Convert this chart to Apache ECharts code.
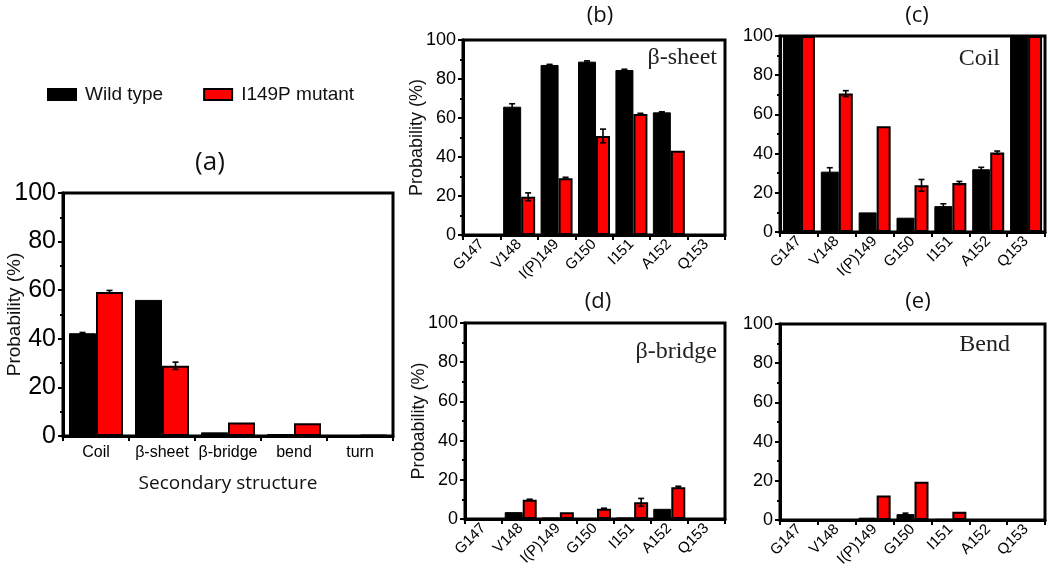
<!DOCTYPE html>
<html>
<head>
<meta charset="utf-8">
<script src="https://cdn.jsdelivr.net/npm/echarts@6/dist/echarts.min.js"></script>
<style>
html,body{margin:0;padding:0;background:#fff;}
#chart{width:1050px;height:569px;}
</style>
</head>
<body>
<div id="chart"></div>
<script>
// ---------- data ----------
const seriesNames = ['Wild type', 'I149P mutant'];
const structCats = ['Coil', 'β-sheet', 'β-bridge', 'bend', 'turn'];
const wtAll = [42.3, 56.0, 1.5, 0.8, 0.3];
const mutAll = [59.3, 28.9, 5.6, 5.2, 0.5];
const wtAllErr = [0.3, 0, 0, 0, 0];
const mutAllErr = [0.6, 1.5, 0, 0, 0];

const residues = ['G147', 'V148', 'I(P)149', 'G150', 'I151', 'A152', 'Q153'];

const wtSheet = [0, 65.8, 87.2, 88.9, 84.6, 62.9, 0];
const mutSheet = [0, 19.6, 29.1, 50.8, 62.0, 43.2, 0];
const wtSheetErr = [0, 1.5, 0.3, 0.4, 0.4, 0.3, 0];
const mutSheetErr = [0, 2.0, 0.5, 3.5, 0.4, 0, 0];

const wtCoil = [100, 30.8, 10.0, 7.3, 13.2, 32.0, 100];
const mutCoil = [100, 70.6, 54.0, 23.8, 25.0, 40.5, 100];
const wtCoilErr = [0, 2.0, 0, 0, 1.2, 1.0, 0];
const mutCoilErr = [0, 1.5, 0, 3.0, 0.8, 0.8, 0];

const wtBridge = [0, 3.5, 0.8, 0, 0.8, 5.2, 0];
const mutBridge = [0, 9.8, 3.5, 5.2, 8.5, 16.2, 0];
const wtBridgeErr = [0, 0, 0, 0, 0, 0, 0];
const mutBridgeErr = [0, 0.3, 0, 0.3, 2.0, 0.5, 0];

const wtBend = [0, 0, 1.2, 3.0, 0.6, 0, 0];
const mutBend = [0, 0, 12.5, 19.5, 4.2, 0, 0];
const wtBendErr = [0, 0, 0, 0.5, 0, 0, 0];
const mutBendErr = [0, 0, 0, 0, 0, 0, 0];

const yMin = 0, yMax = 100, yStep = 20;

// ---------- layout ----------
const panels = [
  {id:'a', cats:structCats, wt:wtAll, mut:mutAll, wtE:wtAllErr, mutE:mutAllErr,
   grid:{left:63, top:193, width:330, height:243}, wB:27, wR:27, yFont:25, yName:true, yNameSize:19, yNameGap:39,
   xRotate:0, xFont:16, xName:'Secondary structure', title:{x:210, y:163, size:26}, inner:null},
  {id:'b', cats:residues, wt:wtSheet, mut:mutSheet, wtE:wtSheetErr, mutE:mutSheetErr,
   grid:{left:463, top:40, width:262, height:195}, wB:18, wR:14, yFont:18, yName:true, yNameSize:18, yNameGap:37,
   xRotate:45, xFont:15, xName:'', title:{x:600, y:16, size:22}, inner:{text:'β-sheet', x:717, y:58}},
  {id:'c', cats:residues, wt:wtCoil, mut:mutCoil, wtE:wtCoilErr, mutE:mutCoilErr,
   grid:{left:780, top:36, width:265, height:196}, wB:18, wR:14, yFont:18, yName:false,
   xRotate:45, xFont:15, xName:'', title:{x:917, y:16, size:22}, inner:{text:'Coil', x:1000, y:59}},
  {id:'d', cats:residues, wt:wtBridge, mut:mutBridge, wtE:wtBridgeErr, mutE:mutBridgeErr,
   grid:{left:465, top:323, width:260, height:196}, wB:18, wR:14, yFont:18, yName:true, yNameSize:18, yNameGap:37,
   xRotate:45, xFont:15, xName:'', title:{x:598, y:302, size:22}, inner:{text:'β-bridge', x:717, y:352}},
  {id:'e', cats:residues, wt:wtBend, mut:mutBend, wtE:wtBendErr, mutE:mutBendErr,
   grid:{left:780, top:324, width:265, height:196}, wB:18, wR:14, yFont:18, yName:false,
   xRotate:45, xFont:15, xName:'', title:{x:918, y:302, size:22}, inner:{text:'Bend', x:1010, y:345}}
];

const grids = [], xAxes = [], yAxes = [], series = [], graphics = [];

function errRender(offset, capHalf) {
  return function (params, api) {
    const i = api.value(0), v = api.value(1), e = api.value(2);
    const top = api.coord([i, v + e]);
    const bot = api.coord([i, Math.max(v - e, 0)]);
    const x = top[0] + offset;
    const ls = {stroke:'#000', lineWidth:1.6};
    return {type:'group', children:[
      {type:'line', shape:{x1:x, y1:top[1], x2:x, y2:bot[1]}, style:ls},
      {type:'line', shape:{x1:x-capHalf, y1:top[1], x2:x+capHalf, y2:top[1]}, style:ls},
      {type:'line', shape:{x1:x-capHalf, y1:bot[1], x2:x+capHalf, y2:bot[1]}, style:ls}
    ]};
  };
}

panels.forEach((p, k) => {
  grids.push(Object.assign({show:true, borderColor:'#000', borderWidth:3, backgroundColor:'transparent',
    containLabel:false, outerBoundsMode:'none'}, p.grid));
  xAxes.push({
    type:'category', gridIndex:k, data:p.cats,
    axisLine:{lineStyle:{color:'#000', width:3}},
    axisTick:{show:true, alignWithLabel:false, length:5, lineStyle:{color:'#000', width:2}},
    axisLabel:{color:'#000', fontFamily:'Liberation Sans, Arial, sans-serif', fontSize:p.xFont,
      rotate:p.xRotate, interval:0, margin:p.xRotate ? 7 : 9},
    name:p.xName, nameLocation:'middle', nameGap:38, nameMoveOverlap:false,
    nameTextStyle:{color:'#111', fontFamily:'Open Sans, sans-serif', fontSize:19}
  });
  yAxes.push({
    type:'value', gridIndex:k, min:yMin, max:yMax, interval:yStep,
    axisLine:{show:true, lineStyle:{color:'#000', width:3}},
    axisTick:{show:true, length:5, lineStyle:{color:'#000', width:2}},
    minorTick:{show:true, splitNumber:2, length:3, lineStyle:{color:'#000', width:2}},
    splitLine:{show:false},
    axisLabel:{color:'#000', fontFamily:'Liberation Sans, Arial, sans-serif', fontSize:p.yFont, margin:7},
    name:p.yName ? 'Probability (%)' : '', nameLocation:'middle', nameGap:p.yNameGap || 40, nameMoveOverlap:false,
    nameTextStyle:{color:'#111', fontFamily:'Liberation Sans, Arial, sans-serif', fontSize:p.yNameSize || 17}
  });
  series.push({
    name:seriesNames[0], type:'bar', xAxisIndex:k, yAxisIndex:k, data:p.wt,
    barWidth:p.wB, barGap:'0%',
    itemStyle:{color:'#000', borderColor:'#000', borderWidth:1}
  });
  series.push({
    name:seriesNames[1], type:'bar', xAxisIndex:k, yAxisIndex:k, data:p.mut,
    barWidth:p.wR, barGap:'0%',
    itemStyle:{color:'#ff0000', borderColor:'#000', borderWidth:2}
  });
  // error bars: bar centres relative to category centre (barGap 0)
  const offB = -p.wR / 2, offR = p.wB / 2;
  const wtErrData = p.wt.map((v, i) => [i, v, p.wtE[i]]).filter(d => d[2] > 0);
  const mutErrData = p.mut.map((v, i) => [i, v, p.mutE[i]]).filter(d => d[2] > 0);
  series.push({type:'custom', xAxisIndex:k, yAxisIndex:k, data:wtErrData,
    renderItem:errRender(offB, 3), z:5, silent:true, encode:{x:0, y:1}});
  series.push({type:'custom', xAxisIndex:k, yAxisIndex:k, data:mutErrData,
    renderItem:errRender(offR, 3), z:5, silent:true, encode:{x:0, y:1}});

  graphics.push({type:'text', x:p.title.x, y:p.title.y,
    style:{text:'(' + p.id + ')', align:'center', verticalAlign:'middle', textAlign:'center', textVerticalAlign:'middle',
      font:p.title.size + 'px "Open Sans", sans-serif', fill:'#111'}});
  if (p.inner) {
    graphics.push({type:'text', x:p.inner.x, y:p.inner.y, z:20,
      style:{text:p.inner.text, align:'right', verticalAlign:'middle', textAlign:'right', textVerticalAlign:'middle',
        font:'24px "Liberation Serif", "Times New Roman", serif', fill:'#222'}});
  }
});

const chart = echarts.init(document.getElementById('chart'), null, {renderer:'canvas'});
chart.setOption({
  animation:false,
  backgroundColor:'#fff',
  legend:{
    data:seriesNames, left:42, top:80, itemWidth:28, itemHeight:11, itemGap:40,
    textStyle:{color:'#111', fontFamily:'Liberation Sans, Arial, sans-serif', fontSize:19, padding:[0,0,0,4]},
    icon:'rect'
  },
  grid:grids, xAxis:xAxes, yAxis:yAxes, series:series, graphic:graphics
});
</script>
</body>
</html>
